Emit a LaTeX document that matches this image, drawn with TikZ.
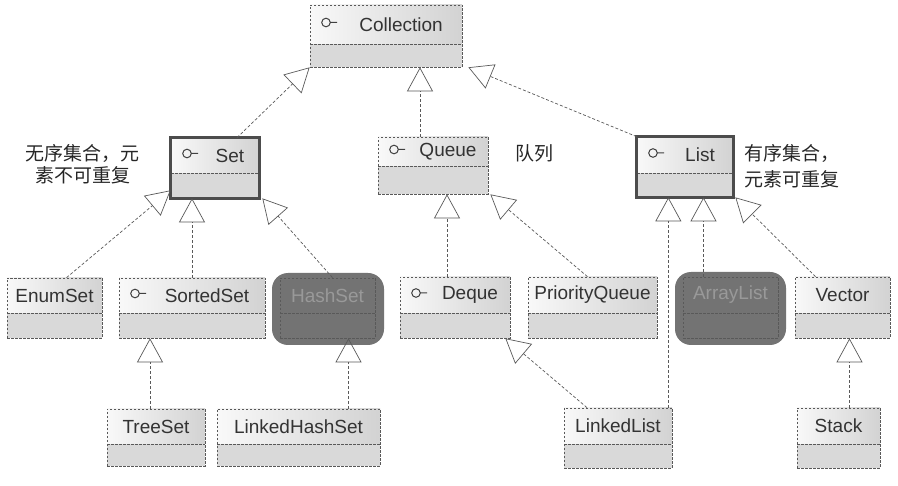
\documentclass[tikz,border=0pt]{standalone}
\usepackage{fontspec}
\setmainfont{Liberation Sans}
\newfontfamily\cjk{Noto Sans CJK SC}
\usetikzlibrary{positioning}
\usetikzlibrary{arrows.meta}
\usetikzlibrary{fit}

\tikzset{
  boxline/.style={draw=black!65, dash pattern=on 2.5pt off 1.5pt, line width=0.7pt},
  head/.style={left color=gray!5, right color=gray!35},
  body/.style={fill=gray!30},
  title/.style={text=black!80, font=\fontsize{19}{22}\selectfont},
  realize/.style={draw=black!65, dash pattern=on 3pt off 2pt, line width=0.7pt,
    -{Triangle[open, length=24pt, width=26pt, line width=0.7pt]}},
  thickframe/.style={draw=black!70, line width=3pt},
  blob/.style={fill=black!55, rounded corners=16pt},
  note/.style={text=black!85, font=\cjk\fontsize{19}{22}\selectfont, align=center},
}

% #1 text shift (30 = interface), #2 name, #3 left, #4 top, #5 right, #6 divider, #7 bottom, #8 label
\newcommand\umlclass[8][0]{%
  \path[head] (#3,#4) rectangle (#5,#6);
  \path[body] (#3,#6) rectangle (#5,#7);
  \draw[boxline] (#3,#6) -- (#5,#6);
  \node[boxline, inner sep=0pt, fit={(#3,#4) (#5,#7)}] (#2) {};
  \node[title] (#2-title) at ({(#3+#5+#1)/2},{(#4+#6)/2}) {#8};
  \ifnum#1>0
    \draw[black!75, line width=1pt] (#3+16,{(#4+#6)/2-2}) circle (4.3)
      (#3+20.3,{(#4+#6)/2-2}) -- (#3+27,{(#4+#6)/2-2});
  \fi
}

\begin{document}
\begin{tikzpicture}[x=1pt, y=-1pt]

    \useasboundingbox (0,0) rectangle (898,486);

    % interfaces
    \umlclass[30]{coll}{310}{5}{462}{44}{67}{Collection}
    \umlclass[30]{set}{171}{138}{259}{173}{198}{Set}
    \umlclass[30]{queue}{378}{137}{488}{166}{194}{Queue}
    \umlclass[30]{list}{637}{137}{733}{173}{197}{List}
    \draw[thickframe] (set.south west) rectangle (set.north east);
    \draw[thickframe] (list.south west) rectangle (list.north east);

    \node[note] (unordered) at (83,164) {无序集合，元\\素不可重复};
    \node[note] (queue-note) at (534,153) {队列};
    \node[note, align=left, anchor=west, font=\cjk\fontsize{19}{26}\selectfont] (ordered) at (741,166) {有序集合，\\元素可重复};

    % second row
    \umlclass{enum}{7}{278}{102}{313}{338}{EnumSet}
    \umlclass[30]{sorted}{119}{278}{265}{313}{338}{SortedSet}
    \umlclass[30]{deque}{400}{277}{510}{313}{338}{Deque}
    \umlclass{pqueue}{528}{277}{657}{313}{338}{PriorityQueue}
    \umlclass{vector}{795}{277}{890}{313}{338}{Vector}
    \begin{scope}[head/.style={}, body/.style={}, title/.append style={text=black!40}]
        \fill[blob] (272,273) rectangle (384,345);
        \umlclass{hash}{280}{278}{375}{313}{338}{HashSet}
        \fill[blob] (675,272) rectangle (786,345);
        \umlclass{alist}{683}{277}{778}{313}{338}{ArrayList}
    \end{scope}

    % third row
    \umlclass{tree}{107}{409}{205}{444}{466}{TreeSet}
    \umlclass{lhs}{217}{409}{380}{444}{466}{LinkedHashSet}
    \umlclass{llist}{564}{408}{672}{444}{468}{LinkedList}
    \umlclass{stack}{797}{408}{880}{444}{468}{Stack}

    % inheritance
    \draw[realize] ([xshift=22pt]set.north) -- (coll.south west);
    \draw[realize] ([xshift=-13pt]queue.north) -- ([xshift=-13pt]queue.north |- coll.south);
    \draw[realize] (list.north west) -- ([xshift=6pt]coll.south east);

    \draw[realize] ([xshift=12pt]enum.north) -- ([yshift=8pt]set.south west);
    \draw[realize] (sorted.north) -- (sorted.north |- set.south);
    \draw[realize] ([xshift=5pt]hash.north) -- ([xshift=3pt]set.south east);
    \draw[realize] ([xshift=-8pt]deque.north) -- ([xshift=-8pt]deque.north |- queue.south);
    \draw[realize] ([xshift=-5pt]pqueue.north) -- ([xshift=2pt]queue.south east);
    \draw[realize] ([xshift=-27pt]alist.north) -- ([xshift=-27pt]alist.north |- list.south);
    \draw[realize] ([xshift=-4pt]llist.north east) -- ([xshift=-4pt]llist.north east |- list.south);
    \draw[realize] ([xshift=-27pt]vector.north) -- ([xshift=2pt]list.south east);

    \draw[realize] ([xshift=-31pt]llist.north) -- ([xshift=-5pt]deque.south east);
    \draw[realize] ([xshift=-6pt]tree.north) -- ([xshift=-6pt]tree.north |- sorted.south);
    \draw[realize] ([xshift=50pt]lhs.north) -- ([xshift=50pt]lhs.north |- hash.south);
    \draw[realize] ([xshift=11pt]stack.north) -- ([xshift=11pt]stack.north |- vector.south);

\end{tikzpicture}
\end{document}
